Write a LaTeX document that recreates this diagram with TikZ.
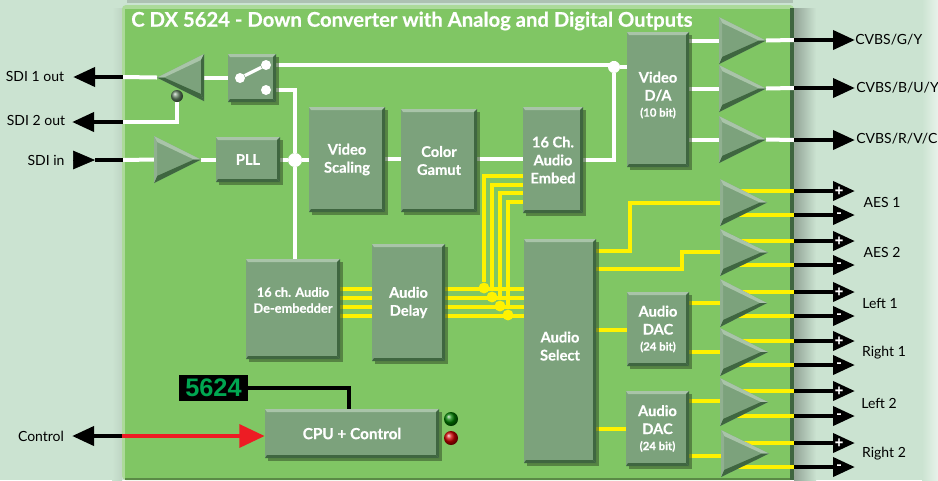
\documentclass[tikz,border=0pt]{standalone}
\usepackage{fontspec}
\setmainfont[BoldFeatures={FakeBold=0.5}]{Lato}
\usetikzlibrary{arrows.meta,calc}
\definecolor{bgc}{HTML}{CBE3D1}
\definecolor{panelc}{HTML}{80C664}
\definecolor{blockc}{HTML}{7CA27C}
\definecolor{bevd}{HTML}{3F6640}
\definecolor{bevl}{HTML}{A9C4A9}
\definecolor{yel}{HTML}{FFF200}
\definecolor{redw}{HTML}{ED1C24}
\definecolor{disp}{HTML}{00A651}
\pgfdeclarelayer{bg}\pgfdeclarelayer{wires}
\pgfsetlayers{bg,wires,main}
\tikzset{
 x=0.75pt,y=-0.75pt,
 block/.style={fill=blockc,inner sep=0pt,align=center,text=white,font=\fontsize{11pt}{13.5pt}\selectfont\bfseries},
 wire/.style={draw=white,line width=3pt,line cap=butt,line join=miter},
 ywire/.style={draw=yel,line width=3.3pt,line join=miter},
 blk/.style={draw=black,line width=3.5pt},
 blka/.style={blk,-{Triangle[length=16.5pt,width=14pt]}},
 extl/.style={font=\fontsize{10.5pt}{12pt}\selectfont,text=black,inner sep=0pt},
 wdot/.style={circle,fill=white,inner sep=0pt,minimum size=10.5pt},
 sdot/.style={circle,fill=white,inner sep=0pt,minimum size=7.5pt},
 ydot/.style={circle,fill=yel,inner sep=0pt,minimum size=8.2pt},
 sym/.style={text=white,inner sep=0pt,font=\fontsize{11pt}{11pt}\selectfont\bfseries},
}
\newcommand{\blkbox}[6]{%
 \pgfmathsetmacro\cxv{(#2+#4)/2}\pgfmathsetmacro\cyv{(#3+#5)/2}%
 \pgfmathsetmacro\wv{(#4-#2)*0.75}\pgfmathsetmacro\hv{(#5-#3)*0.75}%
 \fill[black!55!panelc,opacity=.6] ({#2+3},{#3+3}) rectangle ({#4+3},{#5+3});
 \node[block,minimum width=\wv pt,minimum height=\hv pt] (#1) at (\cxv,\cyv) {#6};
 \fill[bevl] (#2,#3) -- (#4,#3) -- ({#4-3},{#3+3}) -- ({#2+2},{#3+3}) -- cycle;
 \fill[bevd] (#4,#3) -- (#4,#5) -- ({#4-3},{#5-3}) -- ({#4-3},{#3+3}) -- cycle;
 \fill[bevd] (#2,#5) -- (#4,#5) -- ({#4-3},{#5-3}) -- ({#2+2},{#5-3}) -- cycle;
}
% name, base x, top y, bottom y, tip x, direction, base strip colour
\newcommand{\amp}[7]{%
 \pgfmathsetmacro\myv{(#3+#4)/2}%
 \coordinate (#1-in) at (#2,\myv);
 \coordinate (#1-out) at (#5,\myv);
 \fill[blockc] (#2,#3) -- (#5,\myv) -- (#2,#4) -- cycle;
 \fill[bevl] (#2,#3) -- (#5,\myv) -- ({#5-7*#6},\myv) -- ({#2+3*#6},{#3+6}) -- cycle;
 \fill[bevd] (#2,#4) -- (#5,\myv) -- ({#5-7*#6},\myv) -- ({#2+3*#6},{#4-7}) -- cycle;
 \fill[#7] (#2,#3) -- ({#2+3*#6},{#3+6}) -- ({#2+3*#6},{#4-7}) -- (#2,#4) -- cycle;
}
\begin{document}
\begin{tikzpicture}
\useasboundingbox (0,0) rectangle (938,480);
\begin{pgfonlayer}{bg}
 \fill[bgc] (0,0) rectangle (938,480);
 \fill[bgc!85!black] (127,0) rectangle (793,3);
 \shade[left color=bgc!72!black,right color=bgc] (794,8) rectangle (816,480);
 \shade[left color=bgc,right color=bgc!45!white] (922,0) rectangle (938,480);
 \shade[left color=bgc,right color=bgc!94!black] (112,8) rectangle (122,480);
 \fill[panelc!65!white,rounded corners=3pt] (122,5) rectangle (794,480);
 \fill[panelc] (125,9) rectangle (790,478);
 \fill[bevd] (790,8) rectangle (794,480);
 \fill[panelc!70!black] (125,478) rectangle (790,480);
\end{pgfonlayer}
\node[anchor=west,inner sep=0pt,text=white,font=\fontsize{15.2pt}{16pt}\selectfont\bfseries] (title) at (131,21) {C DX 5624 - Down Converter with Analog and Digital Outputs};
% blocks
\blkbox{sw}{228}{54}{276}{102}{}
\blkbox{pll}{216}{137}{280}{182}{PLL}
\blkbox{scal}{309}{107}{385}{212}{Video\\Scaling}
\blkbox{gam}{401}{109}{477}{212}{Color\\Gamut}
\blkbox{emb}{523}{107}{583}{213}{16 Ch.\\Audio\\Embed}
\blkbox{vda}{627}{32}{689}{167}{Video\\D/A\\[-1.5pt]{\fontsize{8.5pt}{10pt}\selectfont (10 bit)}\\[-5.5pt]\mbox{}}
\blkbox{deemb}{246}{259}{340}{359}{{\fontsize{9.6pt}{12pt}\selectfont 16 ch. Audio}\\[-1.5pt]{\fontsize{9.6pt}{12pt}\selectfont De-embedder}\\[0pt]\mbox{}}
\blkbox{delay}{372}{244}{445}{361}{Audio\\Delay}
\blkbox{sel}{524}{239}{596}{463}{Audio\\Select\\[-6pt]\mbox{}}
\blkbox{dac1}{627}{292}{689}{366}{Audio\\DAC\\[-1.5pt]{\fontsize{8.5pt}{10pt}\selectfont (24 bit)}}
\blkbox{dac2}{626}{391}{689}{466}{Audio\\DAC\\[-1.5pt]{\fontsize{8.5pt}{10pt}\selectfont (24 bit)}}
\blkbox{cpu}{265}{409}{439}{458}{\fontsize{11.5pt}{12pt}\selectfont CPU + Control}
% amplifiers
\amp{ampl}{204}{54}{101}{157}{-1}{bevd}
\amp{amps}{154}{136}{183}{201}{1}{blockc!85!white}
\amp{av1}{719}{17}{64}{766}{1}{blockc!85!white}
\amp{av2}{719}{65}{112}{766}{1}{blockc!85!white}
\amp{av3}{719}{116}{163}{766}{1}{blockc!85!white}
\amp{aa1}{720}{179}{226}{767}{1}{blockc!85!white}
\amp{aa2}{720}{229}{276}{768}{1}{blockc!85!white}
\amp{aa3}{720}{279}{327}{767}{1}{blockc!85!white}
\amp{aa4}{720}{328}{376}{768}{1}{blockc!85!white}
\amp{aa5}{720}{378}{426}{768}{1}{blockc!85!white}
\amp{aa6}{721}{430}{477}{769}{1}{blockc!85!white}
% panel edge coordinates
\coordinate (el1) at (123,77);
\coordinate (el2) at (123,122);
\coordinate (el3) at (123,160);
\coordinate (el4) at (122,436);
\foreach \n/\y in {v1/40,v2/88,v3/140,a1/191,a2/215,a3/241,a4/265,a5/292,a6/316,a7/341,a8/365,a9/391,a10/416,a11/443,a12/467}{
 \coordinate (e\n) at (794,\y);
 \coordinate (t\n) at (855,\y);
}
% dots
\node[wdot] (jn) at (295,160) {};
\node[sdot,minimum size=9pt] (jv) at (614,67) {};
\node[sdot] (s1) at (240,78) {};
\node[sdot] (s2) at (266,65) {};
\node[sdot] (s3) at (266,90) {};
\draw[white,line width=2.4pt] (s1) -- (s2);
\node[circle,shading=ball,ball color=blockc!80!black,inner sep=0pt,minimum size=9pt] (split) at (177,96) {};
\node[ydot] (y1) at (484,288) {};
\node[ydot] (y2) at (492,297) {};
\node[ydot] (y3) at (500,306) {};
\node[ydot] (y4) at (508,315) {};
\begin{pgfonlayer}{wires}
 % white wires
 \draw[wire] (el1) -- (ampl-out);
 \draw[wire] (ampl-in) -- (sw.west |- ampl-in);
 \draw[wire] (el2) -| (split);
 \draw[wire] (el3) -- (amps-in);
 \draw[wire] (amps-out) -- (pll.west |- amps-out);
 \draw[wire] (pll.east |- jn) -- (jn) -- (scal.west |- jn);
 \draw[wire] (s3 -| sw.east) -| (jn);
 \draw[wire] (jn) -- (deemb.north -| jn);
 \draw[wire] (s2 -| sw.east) -- (s2 -| jv) -- (jv) -- (vda.west |- jv);
 \draw[wire] (jv) |- (emb.east |- 0,160);
 \draw[wire] (scal.east |- 0,159) -- (gam.west |- 0,159);
 \draw[wire] (gam.east |- 0,159) -- (emb.west |- 0,159);
 \draw[wire] (vda.east |- av1-in) -- (av1-in);
 \draw[wire] (vda.east |- av2-in) -- (av2-in);
 \draw[wire] (vda.east |- av3-in) -- (av3-in);
 \draw[wire] (av1-out) -- (ev1);
 \draw[wire] (av2-out) -- (ev2);
 \draw[wire] (av3-out) -- (ev3);
 % yellow wires
 \foreach \n/\y in {1/289,2/298,3/307,4/316}{
  \draw[ywire] (deemb.east |- 0,\y) -- (delay.west |- 0,\y);
  \draw[ywire] (delay.east |- 0,\y) -- (sel.west |- 0,\y);
 }
 \draw[ywire] (y1) |- (emb.west |- 0,176);
 \draw[ywire] (y2) |- (emb.west |- 0,185);
 \draw[ywire] (y3) |- (emb.west |- 0,193);
 \draw[ywire] (y4) |- (emb.west |- 0,202);
 \draw[ywire] (sel.east |- 0,251) -- (630,251) -- (630,203) -- (aa1-in |- 0,203);
 \draw[ywire] (sel.east |- 0,269) -- (682,269) -- (682,252) -- (aa2-in |- 0,252);
 \draw[ywire] (sel.east |- 0,330) -- (dac1.west |- 0,330);
 \draw[ywire] (sel.east |- 0,429) -- (dac2.west |- 0,429);
 \draw[ywire] (dac1.east |- aa3-in) -- (aa3-in);
 \draw[ywire] (dac1.east |- aa4-in) -- (aa4-in);
 \draw[ywire] (dac2.east |- 0,401) -- (aa5-in |- 0,401);
 \draw[ywire] (dac2.east |- 0,456) -- (aa6-in |- 0,456);
 \foreach \a/\e/\f in {aa1/a1/a2,aa2/a3/a4,aa3/a5/a6,aa4/a7/a8,aa5/a9/a10,aa6/a11/a12}{
  \draw[ywire] (\a-in |- e\e) -- (e\e);
  \draw[ywire] (\a-in |- e\f) -- (e\f);
 }
 % display wire
 \draw[black,line width=3pt] (248,388) -- (349,388) -- (cpu.north -| 349,0);
\end{pgfonlayer}
% external black arrows
\node[extl] (sdi1) at (35,76) {SDI 1 out};
\node[extl] (sdi2) at (36,120) {SDI 2 out};
\node[extl] (sdii) at (46,160) {SDI in};
\node[extl] (ctrl) at (41,436) {Control};
\coordinate (tl1) at (73,77);
\coordinate (tl2) at (72,122);
\coordinate (tl3) at (95,160);
\coordinate (sl3) at (73,160);
\coordinate (tl4) at (72,436);
\draw[blka] (el1) -- (tl1);
\draw[blka] (el2) -- (tl2);
\draw[blk] (el3) -- (tl3);
\draw[-{Triangle[length=16.5pt,width=14pt]},draw=black,line width=0.4pt,fill=black] (sl3) -- (tl3);
\draw[blka] (el4) -- (tl4);
\draw[redw,line width=3.2pt,-{Triangle[length=19pt,width=17pt]}] (el4) -- (cpu.west |- el4);
\foreach \n in {v1,v2,v3,a1,a2,a3,a4,a5,a6,a7,a8,a9,a10,a11,a12}{
 \draw[blka] (e\n) -- (t\n);
}
\foreach \n in {a1,a3,a5,a7,a9,a11}{
 \node[sym] at ($(t\n)+(-16,0)$) {+};
}
\foreach \n in {a2,a4,a6,a8,a10,a12}{
 \node[sym] at ($(t\n)+(-16,0)$) {-};
}
% output labels
\node[extl,anchor=west] (l1) at (855,40) {CVBS/G/Y};
\node[extl,anchor=west] (l2) at (856,88) {CVBS/B/U/Y};
\node[extl,anchor=west] (l3) at (856,139) {CVBS/R/V/C};
\node[extl] (l4) at (882,202) {AES 1};
\node[extl] (l5) at (882,252) {AES 2};
\node[extl] (l6) at (880,303) {Left 1};
\node[extl] (l7) at (884,353) {Right 1};
\node[extl] (l8) at (879,403) {Left 2};
\node[extl] (l9) at (884,454) {Right 2};
% display and LEDs
\node[fill=black,text=disp,inner sep=0pt,minimum width=52pt,minimum height=19.5pt,font=\fontspec{Liberation Sans}\fontsize{19pt}{19pt}\selectfont\bfseries] (display) at (213.5,388) {5624};
\node[circle,shading=ball,ball color=green!50!black,inner sep=0pt,minimum size=10.5pt] (ledg) at (451,419) {};
\node[circle,shading=ball,ball color=red!80!black,inner sep=0pt,minimum size=10.5pt] (ledr) at (451,438) {};
\end{tikzpicture}
\end{document}
